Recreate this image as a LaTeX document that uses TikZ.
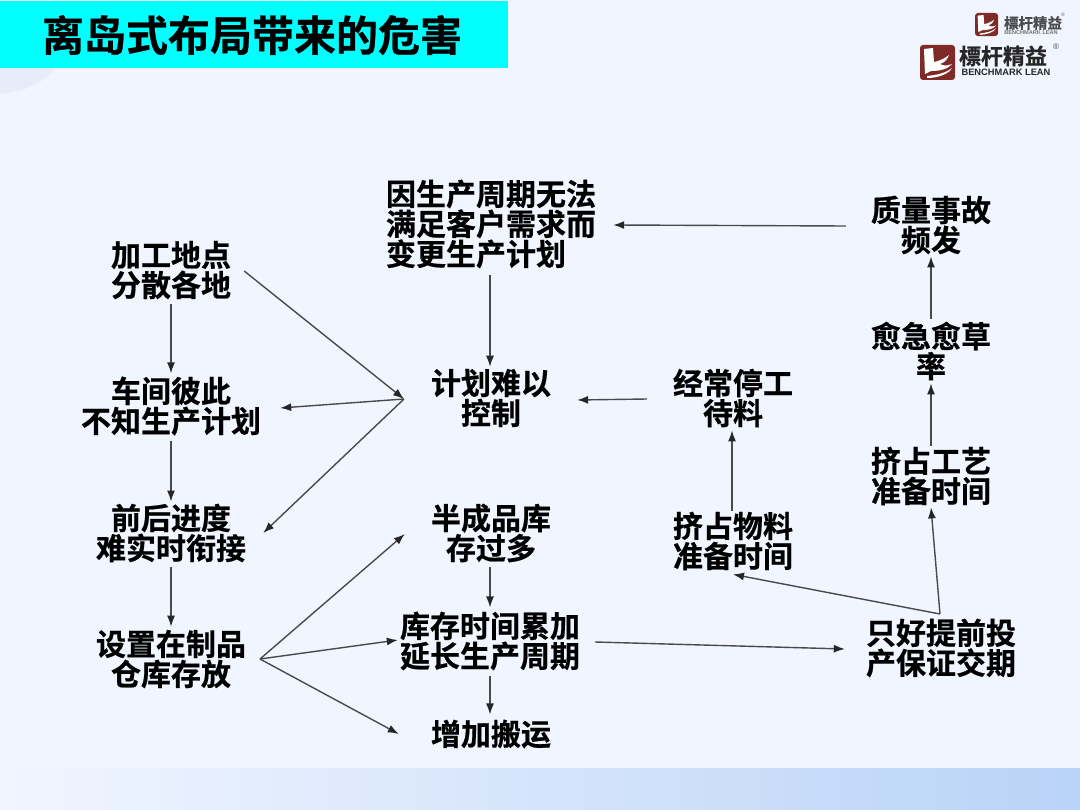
\documentclass[tikz,border=0pt]{standalone}
\usepackage{fontspec}
\setmainfont{Liberation Sans}
\newfontfamily\cjk[BoldFont={Noto Sans CJK SC Bold},BoldFeatures={FakeBold=0.6}]{Noto Sans CJK SC}
\usetikzlibrary{arrows.meta,calc}
\definecolor{bgc}{HTML}{F1F5FF}
\definecolor{bandc}{HTML}{B9D3F7}
\definecolor{circc}{HTML}{E6ECFA}
\definecolor{logored}{HTML}{7E2A26}
\definecolor{arrowc}{HTML}{4A4A4A}
\definecolor{titlebg}{HTML}{00FFFF}
\tikzset{
 lbl/.style={font=\cjk\bfseries\fontsize{30}{30}\selectfont,align=center,inner sep=0pt,text=black},
 conn/.style={draw=arrowc,line width=1.4pt,-{Latex[length=11pt,width=8pt,color=black!85]}},
 ttl/.style={font=\cjk\bfseries\fontsize{42}{42}\selectfont,inner sep=0pt,text=black},
 logotext/.style={font=\cjk\bfseries,inner sep=0pt,text=black!85},
 logosub/.style={font=\bfseries,inner sep=0pt}
}
\newcommand{\logomark}[3]{%
 \begin{scope}[shift={(#1,#2)},scale=#3]
 \fill[logored,rounded corners=3pt] (0,0) rectangle (35,35);
 \fill[white] (4,4) -- (13,3) -- (14,17) .. controls (19,16) and (24,14) .. (29,10) .. controls (27,15) and (24,18) .. (20,19) .. controls (24,21) and (27,21) .. (32,19) .. controls (27,25) and (18,26) .. (11,26) -- (5,29) -- cycle;
 \fill[white] (7,31) .. controls (17,30) and (26,28) .. (32,23) .. controls (29,29) and (18,33) .. (7,33) -- cycle;
 \end{scope}}
\begin{document}
\begin{tikzpicture}[x=1pt,y=-1pt]
\useasboundingbox (0,0) rectangle (1080,810);
\fill[bgc] (0,0) rectangle (1080,810);
\fill[left color=bgc,right color=bandc] (0,768) rectangle (1080,810);
\fill[circc] (0,94) .. controls (25,92) and (45,82) .. (55,68) -- (0,68) -- cycle;
\fill[titlebg] (0,1) rectangle (502,68);
\fill[titlebg] (502,1) rectangle (508,68);
\node[ttl] (title) at (252,35) {离岛式布局带来的危害};
% logos
\logomark{975}{13}{0.66}
\node[logotext,font=\cjk\bfseries\fontsize{14.5}{15}\selectfont,text=black!70] (logoA) at (1033,23) {標杆精益};
\node[logosub,font=\bfseries\fontsize{5.6}{6}\selectfont,text=black!55] (logoB) at (1031,33) {BENCHMARK LEAN};
\node[logosub,font=\fontsize{5}{6}\selectfont,text=black!60] (logoC) at (1063,15) {®};
\logomark{920}{45}{1}
\node[logotext,font=\cjk\bfseries\fontsize{22}{23}\selectfont] (logoD) at (1003,56) {標杆精益};
\node[logosub,font=\bfseries\fontsize{9.3}{10}\selectfont,text=black!85] (logoE) at (1006,72) {BENCHMARK LEAN};
\node[logosub,font=\fontsize{8}{9}\selectfont,text=black!70] (logoF) at (1056,47) {®};
% nodes
\node[lbl] (jg) at (171,270) {加工地点\\分散各地};
\node[lbl] (cj) at (171,406) {车间彼此\\不知生产计划};
\node[lbl] (qh) at (171,533) {前后进度\\难实时衔接};
\node[lbl] (sz) at (171,659) {设置在制品\\仓库存放};
\node[lbl,align=left] (yin) at (491,224) {因生产周期无法\\满足客户需求而\\变更生产计划};
\node[lbl] (jh) at (491,398) {计划难以\\控制};
\node[lbl] (bc) at (491,533) {半成品库\\存过多};
\node[lbl] (kc) at (490,641) {库存时间累加\\延长生产周期};
\node[lbl] (zj) at (491,734) {增加搬运};
\node[lbl] (jc) at (733,398) {经常停工\\待料};
\node[lbl] (wl) at (733,541) {挤占物料\\准备时间};
\node[lbl] (zl) at (931,225) {质量事故\\频发};
\node[lbl] (yj) at (931,351) {愈急愈草\\率};
\node[lbl] (gy) at (931,476) {挤占工艺\\准备时间};
\node[lbl] (zh) at (941,648) {只好提前投\\产保证交期};
% free ends
\coordinate (hub) at (404,399);
\coordinate (fork) at (260,659);
\coordinate (split) at (940,614);
% connectors
\draw[conn] ($(jg.east)+(13,1)$) -- (hub);
\draw[conn] (hub) -- ($(cj.east)+(19,2)$);
\draw[conn] (hub) -- ($(qh.east)+(17,0)$);
\draw[conn] ($(jg.south)+(0,5)$) -- ($(cj.north)+(0,-3)$);
\draw[conn] ($(cj.south)+(0,5)$) -- ($(qh.north)+(0,-2)$);
\draw[conn] ($(qh.south)+(0,5)$) -- ($(sz.north)+(0,-3)$);
\draw[conn] ($(yin.south)+(-1,6)$) -- ($(jh.north)+(-1,-2)$);
\draw[conn] ($(jc.west)+(-26,1)$) -- ($(jh.east)+(26,2)$);
\draw[conn] ($(zl.west)+(-25,1)$) -- ($(yin.east)+(17,1)$);
\draw[conn] ($(yj.north)+(0,-3)$) -- ($(zl.south)+(0,2)$);
\draw[conn] ($(gy.north)+(0,-1)$) -- ($(yj.south)+(0,3)$);
\draw[conn] ($(wl.north)+(-1,-1)$) -- ($(jc.south)+(-1,3)$);
\draw[conn] (split) -- ($(gy.south)+(0,2)$);
\draw[conn] (split) -- ($(wl.south)+(0,4)$);
\draw[conn] (fork) -- ($(bc.west)+(-26,1)$);
\draw[conn] (fork) -- ($(kc.west)+(-2,-1)$);
\draw[conn] (fork) -- ($(zj.west)+(-32,0)$);
\draw[conn] ($(bc.south)+(-1,5)$) -- ($(kc.north)+(0,-4)$);
\draw[conn] ($(kc.south)+(0,5)$) -- ($(zj.north)+(-1,-5)$);
\draw[conn] ($(kc.east)+(15,1)$) -- ($(zh.west)+(-21,1)$);
\end{tikzpicture}
\end{document}
